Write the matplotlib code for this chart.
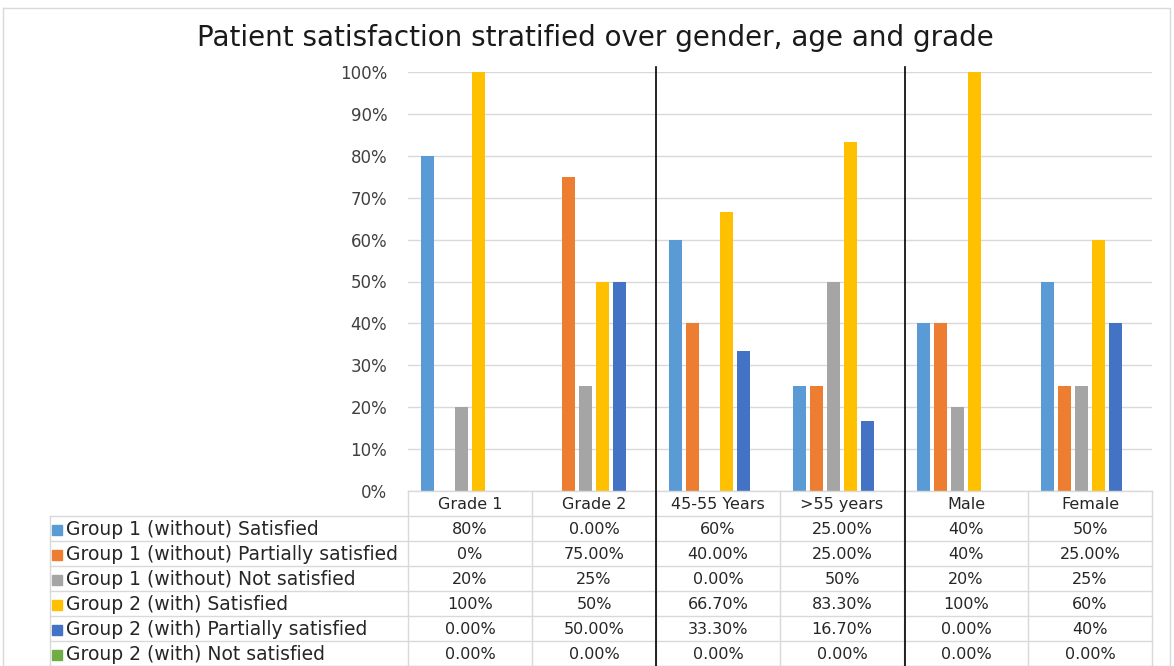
import numpy as np
import matplotlib.pyplot as plt

categories = ["Grade 1", "Grade 2", "45-55 Years", ">55 years", "Male", "Female"]
series = [
    "Group 1 (without) Satisfied",
    "Group 1 (without) Partially satisfied",
    "Group 1 (without) Not satisfied",
    "Group 2 (with) Satisfied",
    "Group 2 (with) Partially satisfied",
    "Group 2 (with) Not satisfied",
]
colors = ["#5B9BD5", "#ED7D31", "#A5A5A5", "#FFC000", "#4472C4", "#70AD47"]

g1_sat = [80, 0, 60, 25, 40, 50]
g1_part = [0, 75, 40, 25, 40, 25]
g1_not = [20, 25, 0, 50, 20, 25]
g2_sat = [100, 50, 66.7, 83.3, 100, 60]
g2_part = [0, 50, 33.3, 16.7, 0, 40]
g2_not = [0, 0, 0, 0, 0, 0]
values = [g1_sat, g1_part, g1_not, g2_sat, g2_part, g2_not]

table_text = [
    ["80%", "0.00%", "60%", "25.00%", "40%", "50%"],
    ["0%", "75.00%", "40.00%", "25.00%", "40%", "25.00%"],
    ["20%", "25%", "0.00%", "50%", "20%", "25%"],
    ["100%", "50%", "66.70%", "83.30%", "100%", "60%"],
    ["0.00%", "50.00%", "33.30%", "16.70%", "0.00%", "40%"],
    ["0.00%", "0.00%", "0.00%", "0.00%", "0.00%", "0.00%"],
]

W, H = 1174, 666
fig = plt.figure(figsize=(W / 100, H / 100), dpi=100)

# plot area
x0, x1 = 408, 1152
y_top, y_bot = 72, 491
ax = fig.add_axes([x0 / W, (H - y_bot) / H, (x1 - x0) / W, (y_bot - y_top) / H])
n = len(categories)
x = np.arange(n)
step = 17 / 124
for i, (vals, c) in enumerate(zip(values, colors)):
    ax.bar(x + (i - 2.5) * step, vals, width=13 / 124, color=c, zorder=3)
ax.set_xlim(-0.5, n - 0.5)
ax.set_ylim(0, 100)
ax.set_yticks(np.arange(0, 101, 10))
ax.set_yticklabels([f"{v}%" for v in range(0, 101, 10)], fontsize=12, color="#404040")
ax.tick_params(axis="y", length=0, pad=15)
ax.set_xticks([])
ax.grid(axis="y", color="#d9d9d9", linewidth=1, zorder=0)
for s in ax.spines.values():
    s.set_visible(False)

# overlay axes in pixel coords for table / frame / separators
ov = fig.add_axes([0, 0, 1, 1])
ov.set_xlim(0, W)
ov.set_ylim(H, 0)
ov.axis("off")
ov.set_zorder(5)

# outer frame
ov.plot([3, 1170, 1170, 3, 3], [8, 8, 666, 666, 8], color="#d9d9d9", lw=1)

# title
fig.text(595 / W, 1 - 38 / H, "Patient satisfaction stratified over gender, age and grade",
         ha="center", va="center", fontsize=20, color="#1a1a1a")

# table
row_h = 25
grid_c = "#d9d9d9"
col_w = (x1 - x0) / n
hdr_top = 491
body_top = 516
bottom = body_top + row_h * 6
ov.plot([x0, x1], [hdr_top, hdr_top], color=grid_c, lw=1)
for r in range(7):
    yy = body_top + r * row_h
    ov.plot([50, x1], [yy, yy], color=grid_c, lw=1)
ov.plot([50, 50], [body_top, bottom], color=grid_c, lw=1)
for k in range(n + 1):
    xx = x0 + k * col_w
    ov.plot([xx, xx], [hdr_top, bottom], color=grid_c, lw=1)

for j, cat in enumerate(categories):
    ov.text(x0 + (j + 0.5) * col_w, hdr_top + row_h / 2 + 1, cat, ha="center", va="center",
            fontsize=11.5, color="#262626")
for r in range(6):
    yc = body_top + (r + 0.5) * row_h + 1
    ov.add_patch(plt.Rectangle((52, yc - 5), 10, 10, color=colors[r]))
    ov.text(66, yc, series[r], ha="left", va="center", fontsize=13.5, color="#262626")
    for j in range(n):
        ov.text(x0 + (j + 0.5) * col_w, yc, table_text[r][j], ha="center", va="center",
                fontsize=11.5, color="#262626")

# separators between groups
for xx in [656, 905]:
    ov.plot([xx, xx], [67, 666], color="black", lw=1.2)

fig.savefig("out.png", dpi=100)
